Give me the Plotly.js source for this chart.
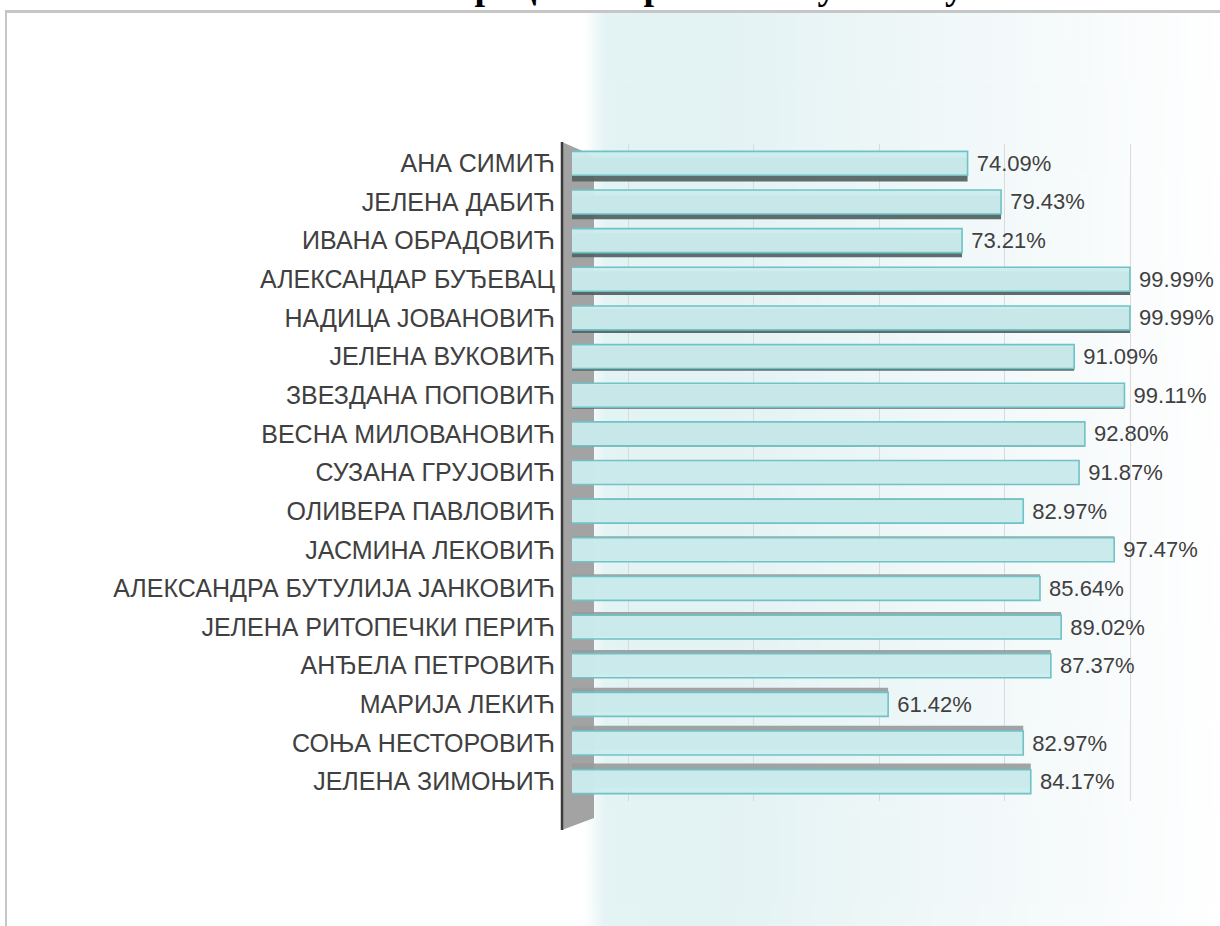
<!DOCTYPE html>
<html>
<head>
<meta charset="utf-8">
<script src="https://cdn.plot.ly/plotly-3.0.1.min.js"></script>
<style>
  html, body { margin: 0; padding: 0; background: #fff; }
  #wrap { position: relative; width: 1220px; height: 926px; overflow: hidden; }
  #chart { position: absolute; left: 0; top: 0; width: 1220px; height: 926px; }
  #frame { position: absolute; left: 5px; top: 10px; width: 1300px; height: 1000px;
           border-top: 3px solid #c6c6c6; border-left: 2px solid #c6c6c6; pointer-events: none; }
</style>
</head>
<body>
<div id="wrap">
  <div id="chart"></div>
  <div id="frame"></div>
</div>
<script>
// ---- data ----
const chartTitle = "Проценат пролаза по учитељу";
const teachers = [
  "АНА СИМИЋ",
  "ЈЕЛЕНА ДАБИЋ",
  "ИВАНА ОБРАДОВИЋ",
  "АЛЕКСАНДАР БУЂЕВАЦ",
  "НАДИЦА ЈОВАНОВИЋ",
  "ЈЕЛЕНА ВУКОВИЋ",
  "ЗВЕЗДАНА ПОПОВИЋ",
  "ВЕСНА МИЛОВАНОВИЋ",
  "СУЗАНА ГРУЈОВИЋ",
  "ОЛИВЕРА ПАВЛОВИЋ",
  "ЈАСМИНА ЛЕКОВИЋ",
  "АЛЕКСАНДРА БУТУЛИЈА ЈАНКОВИЋ",
  "ЈЕЛЕНА РИТОПЕЧКИ ПЕРИЋ",
  "АНЂЕЛА ПЕТРОВИЋ",
  "МАРИЈА ЛЕКИЋ",
  "СОЊА НЕСТОРОВИЋ",
  "ЈЕЛЕНА ЗИМОЊИЋ"
];
const percents = [74.09, 79.43, 73.21, 99.99, 99.99, 91.09, 99.11, 92.80, 91.87, 82.97, 97.47, 85.64, 89.02, 87.37, 61.42, 82.97, 84.17];

// ---- style helpers ----
const n = teachers.length;
const mid = (n - 1) / 2;
const shadowOffset = teachers.map((_, i) => -0.31 + (mid - i) * 0.02);
const shadowColor = teachers.map((_, i) => i < mid ? "rgba(85,100,100,0.95)" : "rgba(150,155,155,0.9)");

// background gradient image (decoration)
function gradientURL() {
  const c = document.createElement("canvas");
  c.width = 640; c.height = 20;
  const g = c.getContext("2d");
  const gr = g.createLinearGradient(0, 0, 640, 0);
  gr.addColorStop(0.0, "#ffffff");
  gr.addColorStop(0.035, "#e4f3f4");
  gr.addColorStop(0.2, "#e3f2f3");
  gr.addColorStop(0.5, "#eef7f8");
  gr.addColorStop(0.8, "#f8fbfc");
  gr.addColorStop(1.0, "#ffffff");
  g.fillStyle = gr;
  g.fillRect(0, 0, 640, 20);
  return c.toDataURL("image/png");
}

const M = { l: 572, r: 0, t: 144, b: 125 };
const PW = 1220 - M.l - M.r, PH = 926 - M.t - M.b;
const px = x => (x - M.l) / PW;          // pixel -> paper x
const py = y => (926 - M.b - y) / PH;    // pixel -> paper y

const labelFont = "'Liberation Sans', Arial, sans-serif";

const shadow = {
  type: "bar", orientation: "h",
  y: teachers, x: percents,
  width: 0.62, offset: shadowOffset,
  marker: { color: shadowColor, line: { width: 0 } },
  hoverinfo: "skip", showlegend: false
};
const face = {
  type: "bar", orientation: "h",
  y: teachers, x: percents,
  width: 0.62, offset: -0.31,
  marker: { color: "rgba(204,236,238,0.96)", line: { color: "#6fc2c6", width: 1.6 } },
  text: percents.map(v => "\u00a0" + v.toFixed(2) + "%"),
  textposition: "outside",
  constraintext: "none",
  textfont: { family: labelFont, size: 22, color: "#404040" },
  cliponaxis: false,
  hovertemplate: "%{y}: %{x:.2f}%<extra></extra>",
  showlegend: false
};

const layout = {
  width: 1220, height: 926,
  margin: M,
  paper_bgcolor: "#ffffff",
  plot_bgcolor: "rgba(0,0,0,0)",
  barmode: "overlay",
  showlegend: false,
  xaxis: {
    range: [11, 114.35],
    dtick: 20, tick0: 0,
    showticklabels: false, ticks: "",
    showgrid: true, gridcolor: "#dadada", gridwidth: 1,
    zeroline: false, showline: false, fixedrange: true
  },
  yaxis: {
    type: "category",
    autorange: "reversed",
    ticks: "", showgrid: false, zeroline: false, showline: false,
    ticklabelstandoff: 16,
    tickfont: { family: labelFont, size: 25, color: "#404040" },
    fixedrange: true
  },
  images: [{
    source: gradientURL(),
    xref: "paper", yref: "paper",
    x: px(584), y: py(12),
    sizex: px(1220) - px(584), sizey: py(12) - py(926),
    xanchor: "left", yanchor: "top",
    sizing: "stretch", layer: "below"
  }],
  shapes: [
    { type: "path", xref: "paper", yref: "paper", layer: "below",
      path: `M ${px(562)} ${py(142)} L ${px(594)} ${py(156)} L ${px(594)} ${py(818)} L ${px(562)} ${py(830)} Z`,
      fillcolor: "#a3a3a3", line: { width: 0 } },
    { type: "line", xref: "paper", yref: "paper", layer: "below",
      x0: px(562), x1: px(562), y0: py(142), y1: py(830),
      line: { color: "#3a3a3a", width: 2.5 } }
  ],
  annotations: [{
    text: "<b>" + chartTitle + "</b>",
    xref: "paper", yref: "paper",
    x: px(443), y: 1, xanchor: "left", yanchor: "bottom",
    yshift: M.t - 9,
    showarrow: false,
    font: { family: "'Liberation Serif', 'Times New Roman', serif", size: 38, color: "#000000" }
  }]
};

Plotly.newPlot("chart", [shadow, face], layout, { displayModeBar: false, staticPlot: true });
</script>
</body>
</html>
